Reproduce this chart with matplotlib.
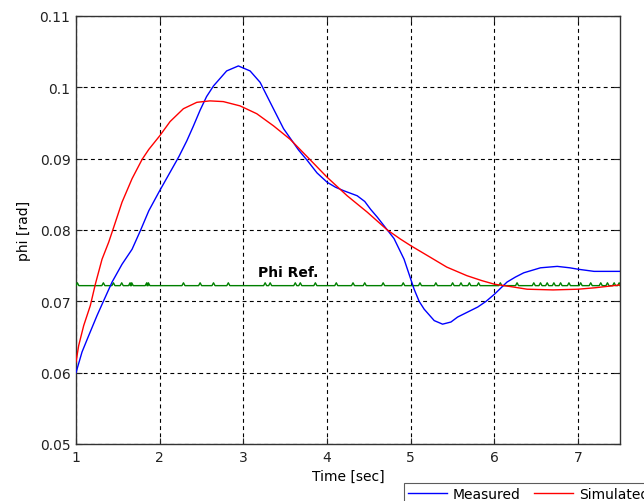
import matplotlib
matplotlib.use("Agg")
import matplotlib.pyplot as plt

# Measured (blue)
meas_t = [1.0, 1.072, 1.152, 1.251, 1.331, 1.431, 1.55, 1.67, 1.769, 1.87, 1.99, 2.11, 2.23,
          2.324, 2.40, 2.483, 2.56, 2.643, 2.80, 2.94, 3.08, 3.20, 3.32, 3.48, 3.66, 3.76, 3.88, 4.0, 4.1, 4.2,
          4.36, 4.45, 4.52, 4.60, 4.68, 4.8, 4.92, 5.04, 5.10, 5.16, 5.28, 5.38, 5.48, 5.56, 5.68,
          5.80, 5.90, 6.0, 6.15, 6.25, 6.35, 6.55, 6.75, 6.9, 7.0, 7.19, 7.5]
meas_v = [0.0600, 0.0629, 0.0652, 0.0680, 0.0701, 0.0727, 0.0752, 0.0773, 0.0799, 0.0827, 0.0853, 0.0878, 0.0903,
          0.0925, 0.0945, 0.0968, 0.0987, 0.1002, 0.1023, 0.1030, 0.1023, 0.1007, 0.0979, 0.0942, 0.0912, 0.0898, 0.0880, 0.0867, 0.0860, 0.0855,
          0.0848, 0.0840, 0.0829, 0.0818, 0.0806, 0.0788, 0.0759, 0.0717, 0.0700, 0.0689, 0.0673, 0.0668, 0.0671, 0.0678, 0.0685,
          0.0692, 0.0700, 0.0710, 0.0727, 0.0734, 0.0740, 0.0747, 0.0749, 0.0747, 0.0745, 0.0742, 0.0742]

# Simulated (red)
sim_t = [1.0, 1.032, 1.092, 1.171, 1.231, 1.311, 1.391, 1.451, 1.55, 1.67, 1.79, 1.87, 2.0, 2.124,
         2.283, 2.444, 2.60, 2.76, 2.96, 3.16, 3.36, 3.56, 3.76, 4.0, 4.24, 4.48, 4.72, 4.88, 5.0,
         5.23, 5.43, 5.67, 5.85, 6.0, 6.23, 6.39, 6.7, 7.0, 7.2, 7.35, 7.5]
sim_v = [0.0615, 0.0638, 0.0666, 0.0694, 0.0724, 0.0759, 0.0783, 0.0804, 0.0839, 0.0872, 0.0899, 0.0913, 0.0932, 0.0952,
         0.0970, 0.0979, 0.0981, 0.0980, 0.0974, 0.0963, 0.0946, 0.0927, 0.0903, 0.0874, 0.0848, 0.0825, 0.0800, 0.0787, 0.0778,
         0.0762, 0.0748, 0.0736, 0.0729, 0.0724, 0.0720, 0.0717, 0.0716, 0.0717, 0.0719, 0.0721, 0.0723]

# Phi reference (green): baseline and small bumps
ref_level = 0.0722
ref_bump_height = 0.0004
ref_bumps = [1.016, 1.327, 1.447, 1.546, 1.646, 1.666, 1.845, 1.865, 2.284, 2.483, 2.643, 2.82,
             3.26, 3.32, 3.62, 3.68, 3.86, 4.11, 4.31, 4.45, 4.67, 4.91, 5.11, 5.30, 5.50, 5.60,
             5.70, 5.81, 6.07, 6.27, 6.47, 6.55, 6.63, 6.71, 6.79, 6.89, 7.03, 7.15, 7.27, 7.35, 7.43, 7.49]

xticks = [1, 2, 3, 4, 5, 6, 7]
yticks = [0.05, 0.06, 0.07, 0.08, 0.09, 0.10, 0.11]
ytick_labels = ["0.05", "0.06", "0.07", "0.08", "0.09", "0.1", "0.11"]

plt.rcParams['font.family'] = ['DejaVu Sans']

fig = plt.figure(figsize=(6.44, 5.02), dpi=100)
ax = fig.add_axes([76/644, 1 - 445/502, (620-76)/644, (445-17)/502])

# build reference line
rx = [1.0]
ry = [ref_level]
w = 0.018
for b in ref_bumps:
    rx += [b - w, b, b + w]
    ry += [ref_level, ref_level + ref_bump_height, ref_level]
rx.append(7.5)
ry.append(ref_level)

ax.plot(rx, ry, color=(0, 0.5, 0), lw=1.0, zorder=3)
lm, = ax.plot(meas_t, meas_v, color=(0, 0, 1), lw=1.0, label="Measured", zorder=4)
ls, = ax.plot(sim_t, sim_v, color=(1, 0, 0), lw=1.0, label="Simulated", zorder=4)

ax.text(3.53, 0.0741, "Phi Ref.", fontsize=10, fontweight='bold', ha='center', va='center')

ax.set_xlim(1, 7.5)
ax.set_ylim(0.05, 0.11)
ax.set_xticks(xticks)
ax.set_xticklabels([str(t) for t in xticks])
ax.set_yticks(yticks)
ax.set_yticklabels(ytick_labels)
ax.tick_params(direction='in', length=4, width=0.8, top=True, right=True,
               labelsize=10, colors='#222222', pad=4)
ax.grid(True, color='black', linestyle=(0, (3.5, 3)), linewidth=0.8)
for s in ax.spines.values():
    s.set_color('#333333')
    s.set_linewidth(1.0)

ax.set_xlabel("Time [sec]", fontsize=10, labelpad=4)
ax.set_ylabel("phi [rad]", fontsize=10, labelpad=6)

leg = fig.legend(handles=[lm, ls], loc='upper left',
                 bbox_to_anchor=(397/644, 1 - 477/502), ncol=2, fontsize=10,
                 frameon=True, fancybox=False, edgecolor='#333333', borderpad=0.3,
                 handlelength=2.8, columnspacing=1.0, handletextpad=0.4)
leg.get_frame().set_linewidth(0.8)

fig.savefig("out.png", dpi=100)
